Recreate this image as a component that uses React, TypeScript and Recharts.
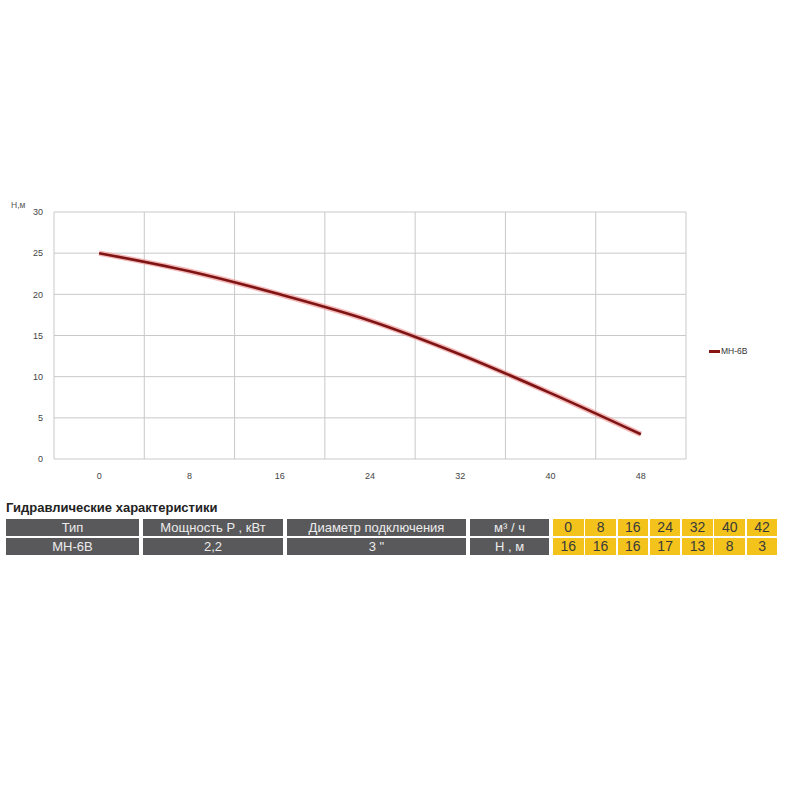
import { LineChart, Line, XAxis, YAxis, CartesianGrid, ReferenceLine, Legend } from 'recharts'

const flow = [0, 8, 16, 24, 32, 40, 48]
const head = [25, 22.8, 20, 16.8, 12.7, 8, 3]
const yTicks = [0, 5, 10, 15, 20, 25, 30]
const gridX = [-4, 4, 12, 20, 28, 36, 44, 52]

const seriesName = 'МН-6В'
const title = 'Гидравлические характеристики'
const headerCells = ['Тип', 'Мощность P , кВт', 'Диаметр подключения', 'м³ / ч']
const valueCells = [seriesName, '2,2', '3 "', 'Н , м']
const tableFlow = ['0', '8', '16', '24', '32', '40', '42']
const tableHead = ['16', '16', '16', '17', '13', '8', '3']

const data = flow.map((q, i) => ({ q, h: head[i] }))

const font = '"Liberation Sans", Arial, sans-serif'
const narrow = '"Liberation Sans Narrow", "Liberation Sans", Arial, sans-serif'
const greyWidths = [133, 140, 179, 79]

function TableRow({ cells, values, top }: { cells: string[]; values: string[]; top: number }) {
  return (
    <div style={{ position: 'absolute', left: 6, top, height: 17, display: 'flex', gap: 4 }}>
      {cells.map((c, i) => (
        <div
          key={i}
          style={{
            width: greyWidths[i],
            background: '#59595b',
            color: '#ececec',
            fontFamily: narrow,
            fontSize: 13,
            lineHeight: '17px',
            textAlign: 'center',
          }}
        >
          {c}
        </div>
      ))}
      <div style={{ display: 'flex', gap: 1.8 }}>
        {values.map((v, i) => (
          <div
            key={i}
            style={{
              width: 30.5,
              background: '#f3c31c',
              color: '#3a3a3a',
              fontFamily: narrow,
              fontSize: 14,
              lineHeight: '17px',
              textAlign: 'center',
            }}
          >
            {v}
          </div>
        ))}
      </div>
    </div>
  )
}

export default function App() {
  return (
    <div style={{ position: 'absolute', left: 0, top: 0, width: 800, height: 800, background: '#fff' }}>
      <div style={{ position: 'absolute', left: 0, top: 0 }}>
        <LineChart width={800} height={500} data={data} margin={{ top: 212, right: 114, left: 24, bottom: 1 }}>
          <CartesianGrid vertical={false} stroke="#c9c9c9" strokeWidth={1} />
          {gridX.map((x) => (
            <ReferenceLine key={x} x={x} stroke="#c9c9c9" strokeWidth={1} />
          ))}
          <XAxis
            dataKey="q"
            type="number"
            domain={[-4, 52]}
            ticks={flow}
            interval={0}
            axisLine={false}
            tickLine={false}
            height={30}
            tickMargin={8}
            tick={{ fontSize: 9, fill: '#444', fontFamily: font }}
          />
          <YAxis
            domain={[0, 30]}
            ticks={yTicks}
            interval={0}
            axisLine={false}
            tickLine={false}
            width={30}
            tickMargin={5}
            tick={{ fontSize: 9, fill: '#444', fontFamily: font }}
          />
          <Legend
            wrapperStyle={{ left: 709, top: 346, width: 60 }}
            content={() => (
              <div style={{ display: 'flex', alignItems: 'center', fontFamily: font, fontSize: 8.5, color: '#333' }}>
                <span style={{ display: 'inline-block', width: 11, height: 3, background: '#8a1515', marginRight: 1 }} />
                {seriesName}
              </div>
            )}
          />
          <Line
            type="monotone"
            dataKey="h"
            stroke="#f09a9a"
            strokeWidth={5.5}
            strokeOpacity={0.7}
            dot={false}
            legendType="none"
            isAnimationActive={false}
          />
          <Line
            type="monotone"
            dataKey="h"
            name={seriesName}
            stroke="#7f1414"
            strokeWidth={2.6}
            dot={false}
            isAnimationActive={false}
          />
        </LineChart>
      </div>
      <div
        style={{
          position: 'absolute',
          left: 11,
          top: 200,
          fontFamily: font,
          fontSize: 8.5,
          color: '#555',
        }}
      >
        Н,м
      </div>
      <div
        style={{
          position: 'absolute',
          left: 6,
          top: 500,
          fontFamily: font,
          fontWeight: 'bold',
          fontSize: 13,
          color: '#222',
        }}
      >
        {title}
      </div>
      <TableRow cells={headerCells} values={tableFlow} top={519} />
      <TableRow cells={valueCells} values={tableHead} top={538} />
    </div>
  )
}
